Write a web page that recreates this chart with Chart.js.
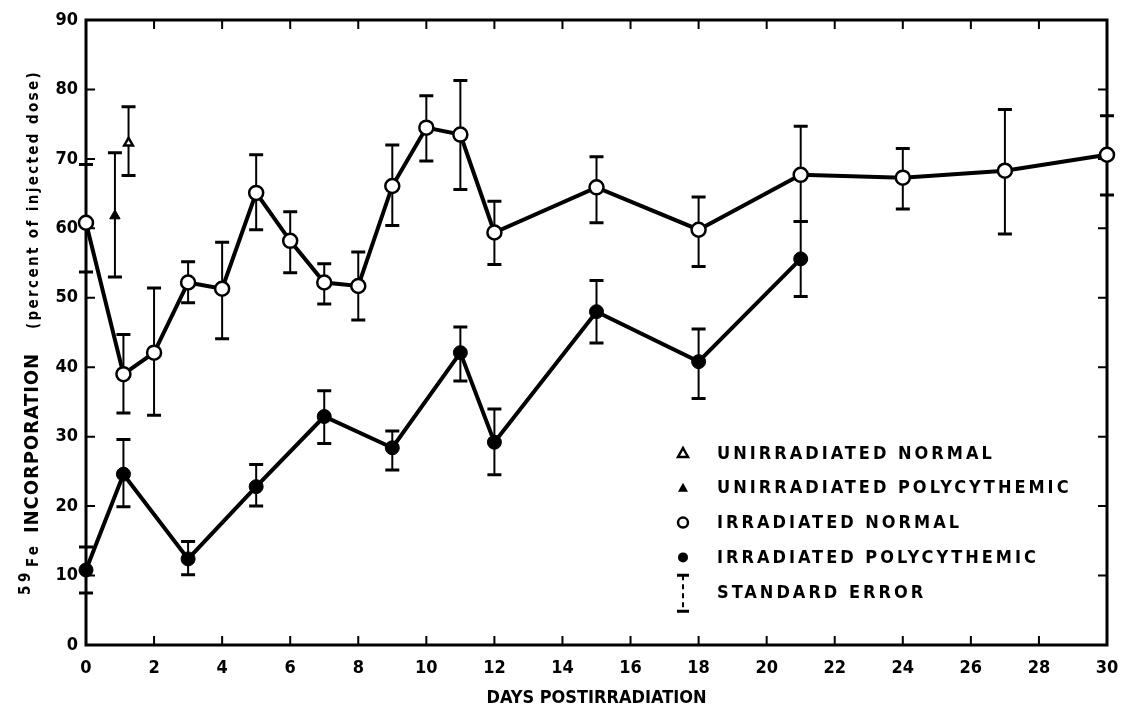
<!DOCTYPE html>
<html>
<head>
<meta charset="utf-8">
<title>59Fe incorporation</title>
<script src="https://cdn.jsdelivr.net/npm/chart.js@4.4.1/dist/chart.umd.min.js"></script>
<style>
  html, body { margin: 0; padding: 0; background: #fff; }
  #wrap { width: 1121px; height: 711px; }
</style>
</head>
<body>
<div id="wrap"><canvas id="ironChart" width="1121" height="711"></canvas></div>
<script>
const FONT = "'DejaVu Sans Condensed', 'Liberation Sans Narrow', 'DejaVu Sans', sans-serif";

const xTicks = [0, 2, 4, 6, 8, 10, 12, 14, 16, 18, 20, 22, 24, 26, 28, 30];
const yTicks = [0, 10, 20, 30, 40, 50, 60, 70, 80, 90];

// irradiated normal (open circles)
const irrNormalDays = [0, 1.1, 2, 3, 4, 5, 6, 7, 8, 9, 10, 11, 12, 15, 18, 21, 24, 27, 30];
const irrNormalValues = [60.8, 39.0, 42.1, 52.2, 51.3, 65.1, 58.2, 52.2, 51.7, 66.1, 74.5, 73.5, 59.4, 65.9, 59.8, 67.7, 67.3, 68.3, 70.6];
const irrNormalHigh = [69.2, 44.7, 51.4, 55.2, 58.0, 70.6, 62.4, 54.9, 56.6, 72.0, 79.1, 81.3, 63.9, 70.3, 64.5, 74.7, 71.5, 77.1, 76.2];
const irrNormalLow = [53.7, 33.4, 33.1, 49.3, 44.1, 59.8, 53.6, 49.1, 46.8, 60.4, 69.7, 65.6, 54.8, 60.8, 54.5, 61.0, 62.8, 59.2, 64.8];

// irradiated polycythemic (filled circles)
const irrPolyDays = [0, 1.1, 3, 5, 7, 9, 11, 12, 15, 18, 21];
const irrPolyValues = [10.8, 24.6, 12.4, 22.8, 32.9, 28.4, 42.1, 29.2, 48.0, 40.8, 55.6];
const irrPolyHigh = [14.1, 29.6, 14.9, 26.0, 36.6, 30.8, 45.8, 34.0, 52.5, 45.5, 61.0];
const irrPolyLow = [7.5, 19.9, 10.1, 20.0, 29.0, 25.2, 38.0, 24.5, 43.5, 35.5, 50.2];

// unirradiated controls
const unirrPolyDays = [0.85];
const unirrPolyValues = [61.8];
const unirrPolyHigh = [70.9];
const unirrPolyLow = [53.0];

const unirrNormalDays = [1.25];
const unirrNormalValues = [72.3];
const unirrNormalHigh = [77.5];
const unirrNormalLow = [67.6];

function points(days, values, high, low) {
  return days.map((d, i) => ({ x: d, y: values[i], hi: high[i], lo: low[i] }));
}

// frame around the plot with inward ticks on all four sides
const framePlugin = {
  id: 'frame',
  beforeDatasetsDraw(chart) {
    const { ctx, chartArea: a, scales: { x, y } } = chart;
    ctx.save();
    ctx.strokeStyle = '#000';
    ctx.lineWidth = 3;
    ctx.strokeRect(a.left, a.top, a.right - a.left, a.bottom - a.top);
    ctx.lineWidth = 2;
    ctx.beginPath();
    xTicks.forEach(v => {
      const px = x.getPixelForValue(v);
      ctx.moveTo(px, a.bottom); ctx.lineTo(px, a.bottom - 9);
      ctx.moveTo(px, a.top); ctx.lineTo(px, a.top + 9);
    });
    yTicks.forEach(v => {
      const py = y.getPixelForValue(v);
      ctx.moveTo(a.left, py); ctx.lineTo(a.left + 9, py);
      ctx.moveTo(a.right, py); ctx.lineTo(a.right - 9, py);
    });
    ctx.stroke();
    ctx.restore();
  }
};

// standard error whiskers, drawn under the markers
const errorBarPlugin = {
  id: 'errorBars',
  beforeDatasetsDraw(chart) {
    const { ctx, scales: { x, y } } = chart;
    ctx.save();
    ctx.strokeStyle = '#000';
    chart.data.datasets.forEach(ds => {
      ds.data.forEach(p => {
        const px = x.getPixelForValue(p.x);
        const top = y.getPixelForValue(p.hi);
        const bot = y.getPixelForValue(p.lo);
        ctx.lineWidth = 2;
        ctx.setLineDash(p.x === 0 ? [5, 4] : []);
        ctx.beginPath();
        ctx.moveTo(px, top); ctx.lineTo(px, bot);
        ctx.stroke();
        ctx.setLineDash([]);
        ctx.lineWidth = 3;
        ctx.beginPath();
        ctx.moveTo(px - 7, top); ctx.lineTo(px + 7, top);
        ctx.moveTo(px - 7, bot); ctx.lineTo(px + 7, bot);
        ctx.stroke();
      });
    });
    ctx.restore();
  }
};

// stretch a string along a given length by letter spacing
function drawFit(ctx, text, start, len, font, dy) {
  ctx.font = font;
  ctx.letterSpacing = '0px';
  const w = ctx.measureText(text).width;
  ctx.letterSpacing = Math.max(0, (len - w) / text.length) + 'px';
  ctx.fillText(text, start, dy);
}

const yTitlePlugin = {
  id: 'yTitle',
  afterDraw(chart) {
    const { ctx } = chart;
    ctx.save();
    ctx.fillStyle = '#000';
    ctx.textBaseline = 'alphabetic';
    ctx.translate(38, 597);
    ctx.rotate(-Math.PI / 2);
    drawFit(ctx, '59', 2, 26, 'bold 15px ' + FONT, -8);
    drawFit(ctx, 'Fe', 30, 24, 'bold 15px ' + FONT, 0);
    drawFit(ctx, 'INCORPORATION', 64, 180, 'bold 20px ' + FONT, 0);
    drawFit(ctx, '(percent of injected dose)', 268, 259, 'bold 15px ' + FONT, 0);
    ctx.restore();
  }
};

const legendRows = [
  { label: 'UNIRRADIATED NORMAL', mark: 'triangleOpen' },
  { label: 'UNIRRADIATED POLYCYTHEMIC', mark: 'triangleFilled' },
  { label: 'IRRADIATED NORMAL', mark: 'circleOpen' },
  { label: 'IRRADIATED POLYCYTHEMIC', mark: 'circleFilled' },
  { label: 'STANDARD ERROR', mark: 'whisker' }
];

const legendPlugin = {
  id: 'inlineLegend',
  afterDraw(chart) {
    const { ctx } = chart;
    const sx = 683, tx = 717, y0 = 453, step = 34.8;
    ctx.save();
    ctx.fillStyle = '#000';
    ctx.strokeStyle = '#000';
    ctx.font = 'bold 18px ' + FONT;
    ctx.letterSpacing = '3px';
    ctx.textBaseline = 'middle';
    legendRows.forEach((row, i) => {
      const cy = y0 + i * step;
      ctx.fillText(row.label, tx, cy + 1);
      ctx.lineWidth = 2.5;
      ctx.beginPath();
      if (row.mark === 'triangleOpen' || row.mark === 'triangleFilled') {
        ctx.moveTo(sx, cy - 5); ctx.lineTo(sx + 5, cy + 4); ctx.lineTo(sx - 5, cy + 4); ctx.closePath();
        row.mark === 'triangleFilled' ? ctx.fill() : ctx.stroke();
      } else if (row.mark === 'circleOpen' || row.mark === 'circleFilled') {
        ctx.arc(sx, cy, 5, 0, Math.PI * 2);
        row.mark === 'circleFilled' ? ctx.fill() : ctx.stroke();
      } else {
        ctx.lineWidth = 3;
        ctx.moveTo(sx - 6, cy - 17); ctx.lineTo(sx + 6, cy - 17);
        ctx.moveTo(sx - 6, cy + 19); ctx.lineTo(sx + 6, cy + 19);
        ctx.stroke();
        ctx.lineWidth = 2;
        ctx.setLineDash([5, 4]);
        ctx.beginPath();
        ctx.moveTo(sx, cy - 17); ctx.lineTo(sx, cy + 19);
        ctx.stroke();
      }
    });
    ctx.restore();
  }
};

new Chart(document.getElementById('ironChart'), {
  type: 'line',
  data: {
    datasets: [
      {
        label: 'IRRADIATED NORMAL',
        data: points(irrNormalDays, irrNormalValues, irrNormalHigh, irrNormalLow),
        borderColor: '#000', borderWidth: 4,
        pointStyle: 'circle', pointRadius: 7, pointBorderWidth: 2.5,
        pointBackgroundColor: '#fff', pointBorderColor: '#000'
      },
      {
        label: 'IRRADIATED POLYCYTHEMIC',
        data: points(irrPolyDays, irrPolyValues, irrPolyHigh, irrPolyLow),
        borderColor: '#000', borderWidth: 4,
        pointStyle: 'circle', pointRadius: 7, pointBorderWidth: 1,
        pointBackgroundColor: '#000', pointBorderColor: '#000'
      },
      {
        label: 'UNIRRADIATED POLYCYTHEMIC',
        data: points(unirrPolyDays, unirrPolyValues, unirrPolyHigh, unirrPolyLow),
        showLine: false,
        pointStyle: 'triangle', pointRadius: 6, pointBorderWidth: 1,
        pointBackgroundColor: '#000', pointBorderColor: '#000'
      },
      {
        label: 'UNIRRADIATED NORMAL',
        data: points(unirrNormalDays, unirrNormalValues, unirrNormalHigh, unirrNormalLow),
        showLine: false,
        pointStyle: 'triangle', pointRadius: 5, pointBorderWidth: 2.5,
        pointBackgroundColor: '#fff', pointBorderColor: '#000'
      }
    ]
  },
  options: {
    responsive: false,
    animation: false,
    clip: false,
    layout: { padding: { top: 20, right: 14, left: 0, bottom: 0 } },
    plugins: { legend: { display: false }, tooltip: { enabled: false } },
    elements: { line: { tension: 0 } },
    scales: {
      x: {
        type: 'linear', min: 0, max: 30,
        afterBuildTicks: s => { s.ticks = xTicks.map(v => ({ value: v })); },
        // keep the plot edge fixed; the "30" label may hang past it
        afterFit: s => { s.height = 66; s.paddingLeft = 0; s.paddingRight = 0; },
        grid: { display: false, drawTicks: false },
        border: { display: false },
        ticks: { color: '#000', padding: 13, font: { family: FONT, size: 18, weight: 'bold' } },
        title: {
          display: true, text: 'DAYS POSTIRRADIATION', color: '#000',
          font: { family: FONT, size: 18, weight: 'bold' },
          padding: { top: 4, bottom: 2 }
        }
      },
      y: {
        type: 'linear', min: 0, max: 90,
        afterBuildTicks: s => { s.ticks = yTicks.map(v => ({ value: v })); },
        afterFit: s => { s.width = 86; s.paddingTop = 0; s.paddingBottom = 0; },
        grid: { display: false, drawTicks: false },
        border: { display: false },
        ticks: { color: '#000', padding: 8, font: { family: FONT, size: 18, weight: 'bold' } }
      }
    }
  },
  plugins: [framePlugin, errorBarPlugin, yTitlePlugin, legendPlugin]
});
</script>
</body>
</html>
